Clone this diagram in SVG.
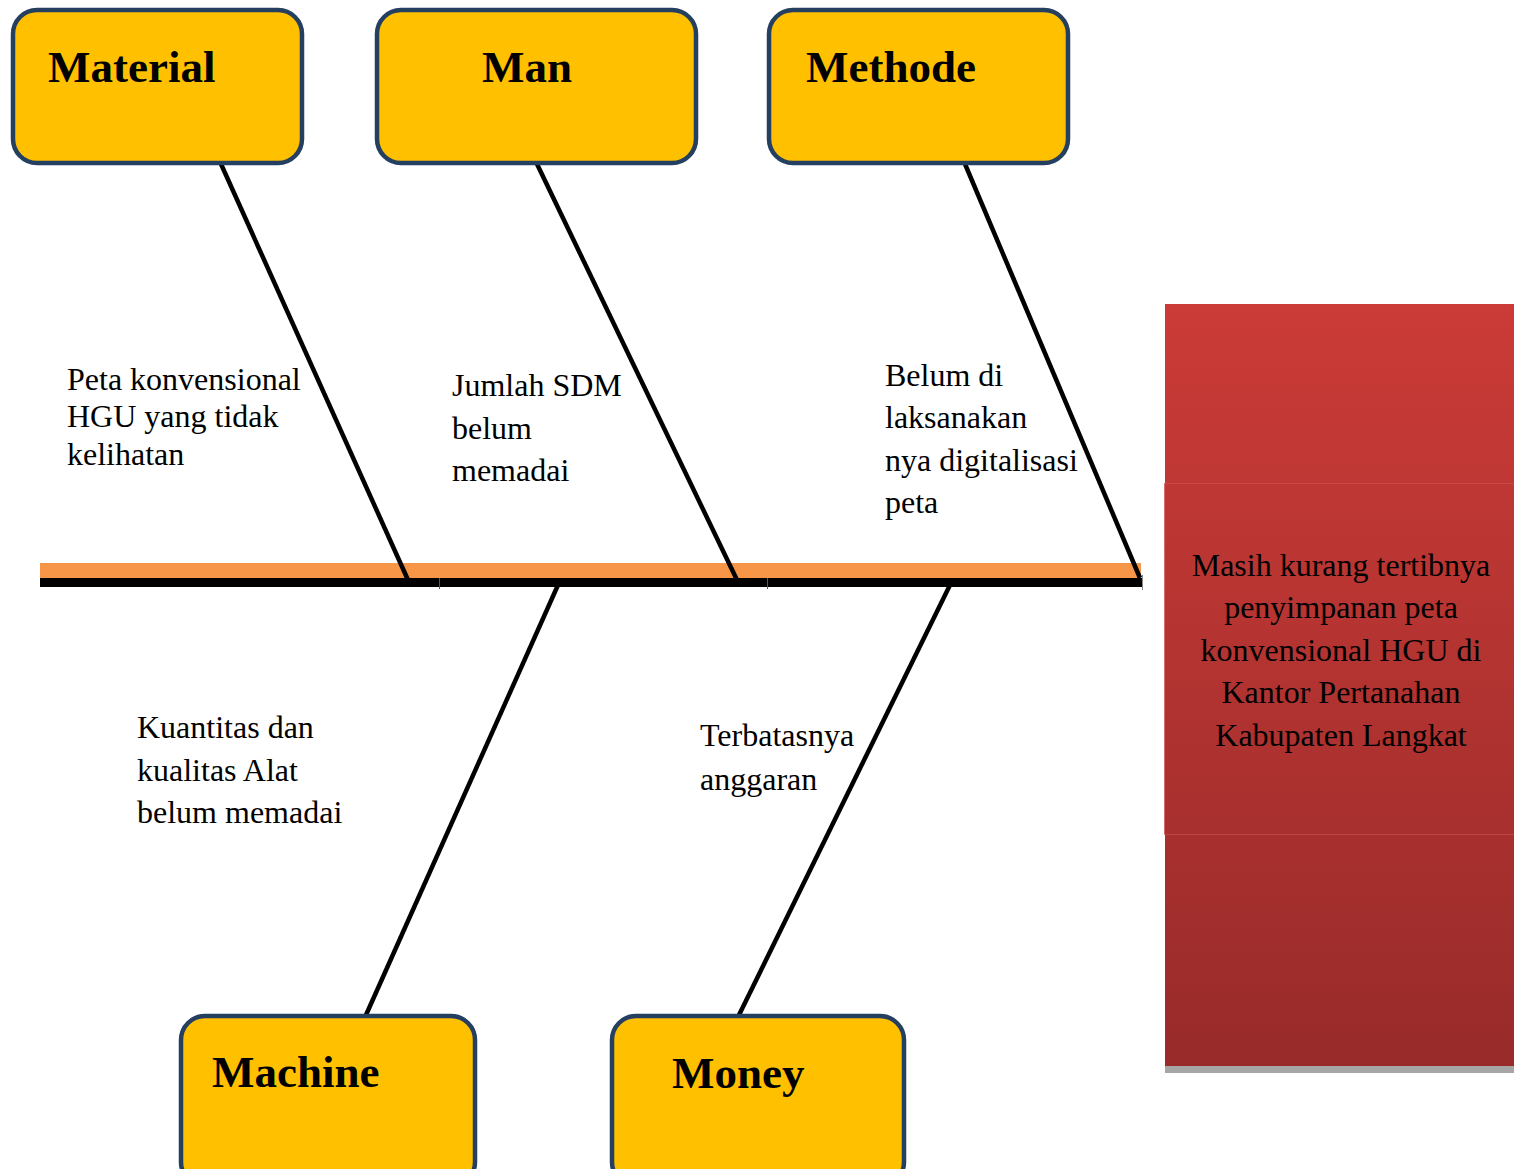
<svg xmlns="http://www.w3.org/2000/svg" width="1514" height="1169" viewBox="0 0 1514 1169">
<defs>
<style>
.box{fill:#FFC000;stroke:#243F60;stroke-width:4.5}
.title{font-family:"Liberation Serif","Times New Roman",serif;font-weight:bold;font-size:45px;fill:#000}
.lbl{font-family:"Liberation Serif","Times New Roman",serif;font-size:32px;fill:#000}
.bone{stroke:#000;stroke-width:4.5;fill:none}
</style>
<linearGradient id="red" x1="0" y1="304" x2="0" y2="1066" gradientUnits="userSpaceOnUse">
<stop offset="0" stop-color="#CB3B37"/>
<stop offset="1" stop-color="#982B2A"/>
</linearGradient>
</defs>
<rect width="1514" height="1169" fill="#fff"/>
<g id="effect">
<rect x="1165" y="1064" width="349" height="9" fill="#A6A6A6"/>
<rect x="1165" y="304" width="349" height="762" fill="url(#red)"/>
<rect x="1164.5" y="483.5" width="350" height="351" fill="url(#red)" stroke="#D05450" stroke-opacity="0.6" stroke-width="1"/>
<text class="lbl" text-anchor="middle"><tspan x="1341" y="576">Masih kurang tertibnya</tspan><tspan x="1341" y="618">penyimpanan peta</tspan><tspan x="1341" y="661">konvensional HGU di</tspan><tspan x="1341" y="703">Kantor Pertanahan</tspan><tspan x="1341" y="746">Kabupaten Langkat</tspan></text>
</g>
<g id="connectors">
<rect x="40" y="563" width="1101" height="15" fill="#F79646"/>
<rect x="40" y="578" width="1102" height="9" fill="#000"/>
<line x1="439.5" y1="578" x2="439.5" y2="589" stroke="#555" stroke-width="1"/>
<line x1="767.5" y1="578" x2="767.5" y2="589" stroke="#555" stroke-width="1"/>
<line x1="1142.5" y1="575" x2="1142.5" y2="590" stroke="#888" stroke-width="1"/>
<line class="bone" x1="221" y1="164" x2="408" y2="580"/>
<line class="bone" x1="537" y1="164" x2="737" y2="580"/>
<line class="bone" x1="965" y1="164" x2="1140" y2="578"/>
<line class="bone" x1="558" y1="585" x2="366" y2="1015"/>
<line class="bone" x1="950" y1="585" x2="739" y2="1015"/>
</g>
<g id="material">
<rect class="box" x="13" y="10" width="289" height="153" rx="24"/>
<text class="title" x="48" y="82">Material</text>
</g>
<g id="man">
<rect class="box" x="377" y="10" width="319" height="153" rx="24"/>
<text class="title" x="482" y="82">Man</text>
</g>
<g id="methode">
<rect class="box" x="769" y="10" width="299" height="153" rx="24"/>
<text class="title" x="806" y="82">Methode</text>
</g>
<g id="machine">
<rect class="box" x="181" y="1016" width="294" height="170" rx="24"/>
<text class="title" x="212" y="1087">Machine</text>
</g>
<g id="money">
<rect class="box" x="612" y="1016" width="292" height="170" rx="24"/>
<text class="title" x="672" y="1088">Money</text>
</g>
<g id="labels">
<text class="lbl"><tspan x="67" y="390">Peta konvensional</tspan><tspan x="67" y="427">HGU yang tidak</tspan><tspan x="67" y="465">kelihatan</tspan></text>
<text class="lbl"><tspan x="452" y="396">Jumlah SDM</tspan><tspan x="452" y="439">belum</tspan><tspan x="452" y="481">memadai</tspan></text>
<text class="lbl"><tspan x="885" y="386">Belum di</tspan><tspan x="885" y="428">laksanakan</tspan><tspan x="885" y="471">nya digitalisasi</tspan><tspan x="885" y="513">peta</tspan></text>
<text class="lbl"><tspan x="137" y="738">Kuantitas dan</tspan><tspan x="137" y="781">kualitas Alat</tspan><tspan x="137" y="823">belum memadai</tspan></text>
<text class="lbl"><tspan x="700" y="746">Terbatasnya</tspan><tspan x="700" y="790">anggaran</tspan></text>
</g>
</svg>
